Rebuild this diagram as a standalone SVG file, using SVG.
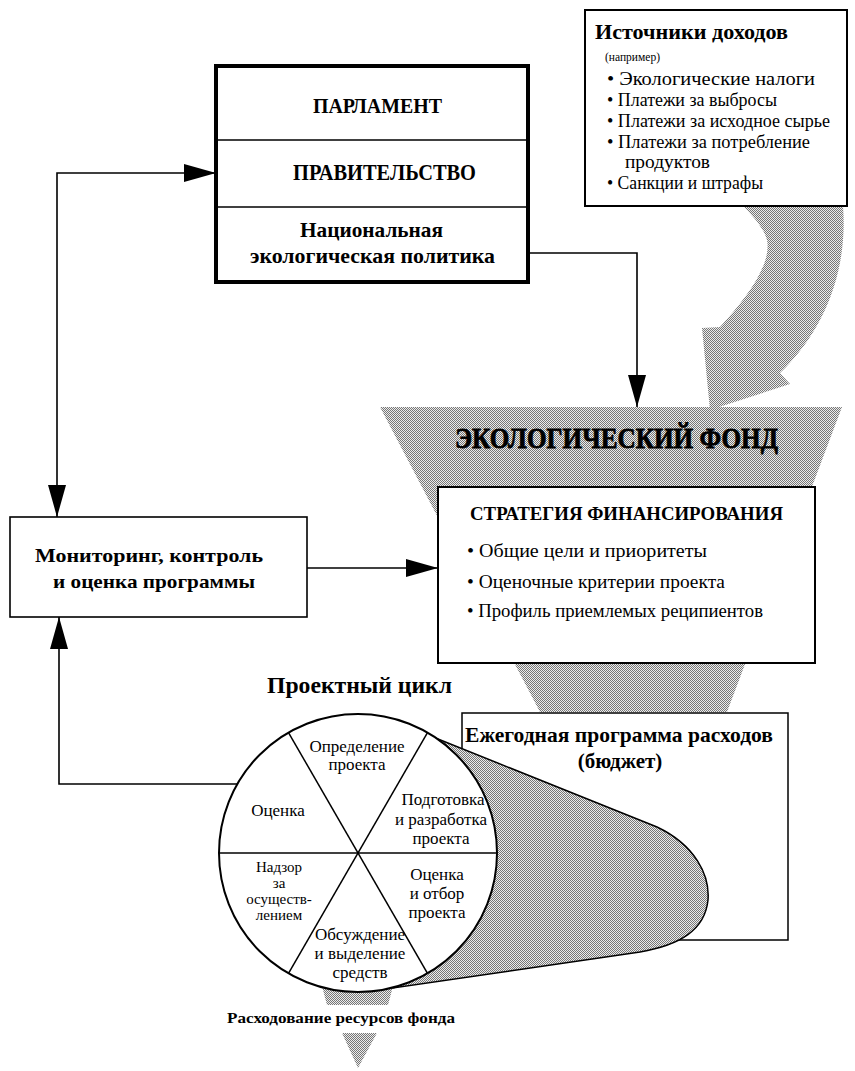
<svg xmlns="http://www.w3.org/2000/svg" width="855" height="1071" viewBox="0 0 855 1071" font-family="'Liberation Serif', 'DejaVu Serif', 'Noto Serif', serif">
<defs>
<pattern id="dot" width="2" height="2" patternUnits="userSpaceOnUse">
<rect width="2" height="2" fill="#ececec"/>
<rect width="1" height="1" fill="#777"/>
<rect x="1" y="1" width="1" height="1" fill="#777"/>
</pattern>
<marker id="ah" markerUnits="userSpaceOnUse" markerWidth="32" markerHeight="18" refX="32" refY="9" orient="auto-start-reverse">
<path d="M0,0 L32,9 L0,18 Z" fill="#000"/>
</marker>
<style>
text{font-family:'Liberation Serif','DejaVu Serif','Noto Serif',serif;fill:#000}
.b{font-weight:bold}
.box{fill:#fff;stroke:#000}
.shade{fill:url(#dot)}
.con{fill:none;stroke:#000;stroke-width:1.6}
.seg{font-size:17px;text-anchor:middle}
.seg2{font-size:15px;text-anchor:middle}
.bul{font-size:18px}
</style>
</defs>
<rect width="855" height="1071" fill="#fff"/>

<g id="shading">
<polygon class="shade" points="380,407 842,407 727,712 540,712"/>
<path class="shade" d="M743,206 L843,206 C848,270 825,330 780,373 L790,384 L710,410 L702,328 L720,327 C745,300 772,265 767,240 C764,228 752,215 743,206 Z"/>
<polygon class="shade" points="315,960 400,960 388,1005 327,1005"/>
<polygon class="shade" points="342,1033 377,1033 358,1068"/>
</g>

<g id="connectors">
<path class="con" d="M216,173 H57 V517" marker-start="url(#ah)" marker-end="url(#ah)"/>
<path class="con" d="M307,568 H438" marker-end="url(#ah)"/>
<path class="con" d="M237,784 H59 V617" marker-end="url(#ah)"/>
<path class="con" d="M528,253 H637 V407" marker-end="url(#ah)"/>
</g>

<g id="parliament">
<rect class="box" x="216" y="66" width="312" height="216" stroke-width="4"/>
<line x1="216" y1="140" x2="528" y2="140" stroke="#000" stroke-width="1.5"/>
<line x1="216" y1="207" x2="528" y2="207" stroke="#000" stroke-width="1.5"/>
<text class="b" x="313" y="113" font-size="22" textLength="129" lengthAdjust="spacingAndGlyphs">ПАРЛАМЕНТ</text>
<text class="b" x="293" y="180" font-size="23" textLength="183" lengthAdjust="spacingAndGlyphs">ПРАВИТЕЛЬСТВО</text>
<text class="b" x="300" y="237" font-size="21" textLength="143" lengthAdjust="spacingAndGlyphs">Национальная</text>
<text class="b" x="250" y="263" font-size="21" textLength="245" lengthAdjust="spacingAndGlyphs">экологическая политика</text>
</g>

<g id="sources">
<rect class="box" x="585" y="10" width="262" height="196" stroke-width="2"/>
<text class="b" x="595" y="39" font-size="21" textLength="193" lengthAdjust="spacingAndGlyphs">Источники доходов</text>
<text x="605" y="61" font-size="12" textLength="55" lengthAdjust="spacingAndGlyphs">(например)</text>
<text class="bul" x="607" y="85" textLength="208" lengthAdjust="spacingAndGlyphs">• Экологические налоги</text>
<text class="bul" x="607" y="106" textLength="170" lengthAdjust="spacingAndGlyphs">• Платежи за выбросы</text>
<text class="bul" x="607" y="127" textLength="223" lengthAdjust="spacingAndGlyphs">• Платежи за исходное сырье</text>
<text class="bul" x="607" y="148" textLength="203" lengthAdjust="spacingAndGlyphs">• Платежи за потребление</text>
<text class="bul" x="625" y="168" textLength="85" lengthAdjust="spacingAndGlyphs">продуктов</text>
<text class="bul" x="607" y="189" textLength="156" lengthAdjust="spacingAndGlyphs">• Санкции и штрафы</text>
</g>

<g id="fund">
<text class="b" x="455" y="448" font-size="29" stroke="#000" stroke-width="0.8" textLength="323" lengthAdjust="spacingAndGlyphs">ЭКОЛОГИЧЕСКИЙ ФОНД</text>
</g>

<g id="strategy">
<rect class="box" x="438" y="487" width="377" height="176" stroke-width="2"/>
<text class="b" x="470" y="520" font-size="18" textLength="313" lengthAdjust="spacingAndGlyphs">СТРАТЕГИЯ ФИНАНСИРОВАНИЯ</text>
<text class="bul" x="467" y="557" textLength="240" lengthAdjust="spacingAndGlyphs">• Общие цели и приоритеты</text>
<text class="bul" x="467" y="588" textLength="258" lengthAdjust="spacingAndGlyphs">• Оценочные критерии проекта</text>
<text class="bul" x="467" y="617" textLength="296" lengthAdjust="spacingAndGlyphs">• Профиль приемлемых реципиентов</text>
</g>

<g id="monitoring">
<rect class="box" x="10" y="517" width="297" height="100" stroke-width="1.6"/>
<text class="b" x="35" y="562" font-size="19" textLength="228" lengthAdjust="spacingAndGlyphs">Мониторинг,   контроль</text>
<text class="b" x="53" y="588" font-size="19" textLength="202" lengthAdjust="spacingAndGlyphs">и оценка программы</text>
</g>

<g id="budget">
<rect class="box" x="462" y="713" width="326" height="227" stroke-width="1.5"/>
<text class="b" x="465" y="742" font-size="21" textLength="308" lengthAdjust="spacingAndGlyphs">Ежегодная программа расходов</text>
<text class="b" x="620" y="768" font-size="21" text-anchor="middle">(бюджет)</text>
</g>

<g id="tongue">
<path d="M428,735 L657,827 C695,845 710,875 708,900 C705,930 680,945 640,952 L393,988 L358,853 Z" fill="url(#dot)" stroke="#000" stroke-width="1.5"/>
</g>

<g id="cycle-title">
<text class="b" x="267" y="693" font-size="24" textLength="185" lengthAdjust="spacingAndGlyphs">Проектный цикл</text>
</g>

<g id="cycle">
<circle cx="358" cy="853" r="139" fill="#fff" stroke="#000" stroke-width="2"/>
<line x1="219" y1="853" x2="497" y2="853" stroke="#000" stroke-width="1.5"/>
<line x1="288.5" y1="732.6" x2="427.5" y2="973.4" stroke="#000" stroke-width="1.5"/>
<line x1="427.5" y1="732.6" x2="288.5" y2="973.4" stroke="#000" stroke-width="1.5"/>
<text class="seg" x="357" y="752">Определение</text>
<text class="seg" x="357" y="770">проекта</text>
<text class="seg" x="278" y="816">Оценка</text>
<text class="seg" x="443" y="805">Подготовка</text>
<text class="seg" x="441" y="825">и разработка</text>
<text class="seg" x="441" y="844">проекта</text>
<text class="seg2" x="279" y="872">Надзор</text>
<text class="seg2" x="279" y="888">за</text>
<text class="seg2" x="279" y="904">осуществ-</text>
<text class="seg2" x="279" y="920">лением</text>
<text class="seg" x="437" y="880">Оценка</text>
<text class="seg" x="437" y="899">и отбор</text>
<text class="seg" x="437" y="918">проекта</text>
<text class="seg" x="360" y="940">Обсуждение</text>
<text class="seg" x="360" y="959">и выделение</text>
<text class="seg" x="360" y="978">средств</text>
</g>

<g id="spending">
<text class="b" x="227" y="1023" font-size="15" textLength="228" lengthAdjust="spacingAndGlyphs">Расходование ресурсов фонда</text>
</g>
</svg>
